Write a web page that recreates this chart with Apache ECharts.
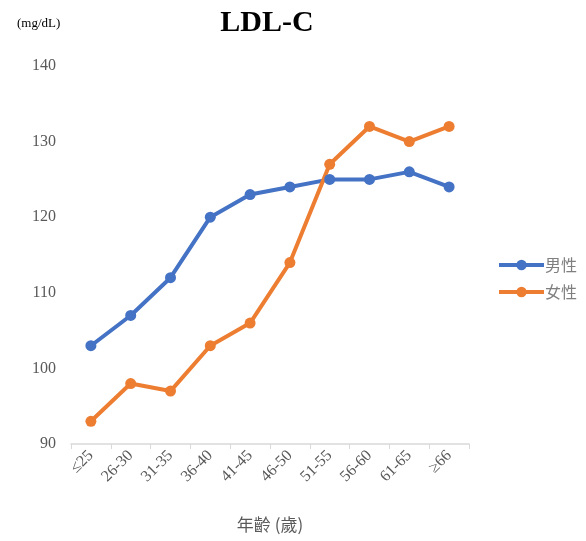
<!DOCTYPE html>
<html>
<head>
<meta charset="utf-8">
<script src="https://cdn.jsdelivr.net/npm/echarts@6/dist/echarts.min.js"></script>
<style>html,body{margin:0;padding:0;background:#fff}#c{width:586px;height:541px}</style>
</head>
<body>
<div id="c"></div>
<script>
// Age groups on the x axis
const ageGroups = ['≤25', '26-30', '31-35', '36-40', '41-45', '46-50', '51-55', '56-60', '61-65', '≥66'];
// Mean LDL-C (mg/dL) per age group
const maleValues = [103, 107, 112, 120, 123, 124, 125, 125, 126, 124];
const femaleValues = [93, 98, 97, 103, 106, 114, 127, 132, 130, 132];
const seriesNames = ['男性', '女性'];

const serif = '"Liberation Serif", "Times New Roman", serif';
const cjk = '"Noto Sans CJK TC", "Noto Sans CJK SC", sans-serif';

const chart = echarts.init(document.getElementById('c'));
chart.setOption({
  animation: false,
  title: [
    { text: 'LDL-C', left: 262, top: 3, textAlign: 'center',
      textStyle: { fontFamily: serif, fontWeight: 'bold', fontSize: 30, color: '#000' } },
    { text: '(mg/dL)', left: 12, top: 12,
      textStyle: { fontFamily: serif, fontWeight: 'normal', fontSize: 13, color: '#000' } }
  ],
  grid: { left: 71, right: 117, top: 66, bottom: 97 },
  legend: {
    orient: 'vertical', left: 492, top: 252, itemGap: 11,
    itemWidth: 45, itemHeight: 13,
    lineStyle: { width: 4 },
    textStyle: { fontFamily: cjk, fontSize: 16, color: '#7f7f7f', padding: [0, 0, 0, -4] },
    data: seriesNames
  },
  xAxis: {
    type: 'category', data: ageGroups, boundaryGap: true,
    name: '年齡 (歲)', nameLocation: 'middle', nameGap: 72,
    nameTextStyle: { fontFamily: cjk, fontSize: 17, color: '#595959' },
    axisLine: { lineStyle: { color: '#d9d9d9', width: 1.5 } },
    axisTick: { show: true, alignWithLabel: false, length: 5, lineStyle: { color: '#d9d9d9' } },
    axisLabel: { rotate: 45, fontFamily: serif, fontSize: 16, color: '#595959', margin: 9, interval: 0 },
    splitLine: { show: false }
  },
  yAxis: {
    type: 'value', min: 90, max: 140, interval: 10,
    axisLine: { show: false }, axisTick: { show: false },
    splitLine: { show: false },
    axisLabel: { fontFamily: serif, fontSize: 16, color: '#595959', margin: 15 }
  },
  series: [
    { name: seriesNames[0], type: 'line', data: maleValues,
      symbol: 'circle', symbolSize: 11,
      lineStyle: { width: 4, color: '#4472C4' }, itemStyle: { color: '#4472C4' } },
    { name: seriesNames[1], type: 'line', data: femaleValues,
      symbol: 'circle', symbolSize: 11,
      lineStyle: { width: 4, color: '#ED7D31' }, itemStyle: { color: '#ED7D31' } }
  ]
});
</script>
</body>
</html>
